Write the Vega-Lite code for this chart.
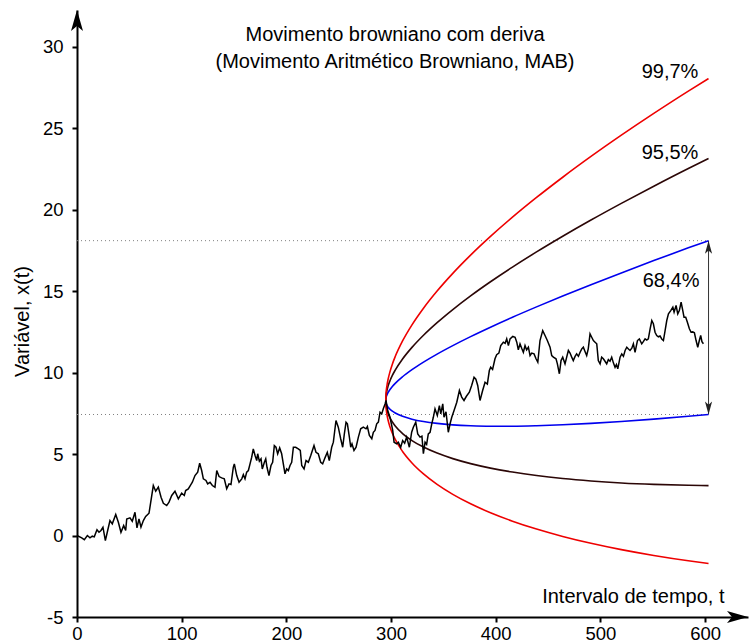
{
 "$schema": "https://vega.github.io/schema/vega-lite/v6.json",
 "width": 671, "height": 607,
 "autosize": {"type": "none"},
 "padding": {"left": 77, "top": 10, "right": 1, "bottom": 26},
 "background": "white",
 "config": {
  "view": {"stroke": null},
  "font": "Liberation Sans",
  "axis": {"grid": false, "domainColor": "black", "domainWidth": 2, "tickColor": "black", "tickWidth": 2, "tickSize": 5,
           "labelFont": "Liberation Sans", "labelFontSize": 18.5, "labelColor": "black",
           "titleFont": "Liberation Sans", "titleFontSize": 20, "titleFontWeight": "normal", "titleColor": "black"}
 },
 "datasets": {
  "path": [
   {"t":0,"v":0},{"t":4.5,"v":-0.14},{"t":7,"v":-0.25},{"t":9.9,"v":0.0},{"t":12.4,"v":-0.14},{"t":14.6,"v":-0.04},{"t":16.5,"v":-0.08},{"t":19.1,"v":0.35},{"t":21,"v":0.2},{"t":22.9,"v":0.31},{"t":24.8,"v":0.51},{"t":27.1,"v":-0.31},{"t":29.3,"v":0.31},{"t":31.5,"v":0.92},{"t":33.7,"v":0.72},{"t":37,"v":1.29},{"t":39.5,"v":0.82},{"t":42,"v":0.2},{"t":44.6,"v":0.61},{"t":46.5,"v":0.31},{"t":47.5,"v":1.02},{"t":50.6,"v":1.09},{"t":52.8,"v":0.88},{"t":55.4,"v":1.43},{"t":57.3,"v":0.47},{"t":59.2,"v":1.02},{"t":61.1,"v":0.51},{"t":63.4,"v":0.92},{"t":65.6,"v":1.17},{"t":68.8,"v":1.37},{"t":72.9,"v":3.07},{"t":75.2,"v":2.72},{"t":77.7,"v":2.97},{"t":80.3,"v":2.35},{"t":82.5,"v":1.98},{"t":85.7,"v":1.84},{"t":87.9,"v":2.05},{"t":90.5,"v":2.46},{"t":93.6,"v":2.72},{"t":96.8,"v":2.25},{"t":100,"v":2.6},{"t":102.5,"v":2.46},{"t":103.8,"v":2.76},{"t":106.3,"v":2.86},{"t":108.2,"v":3.07},{"t":110.2,"v":3.27},{"t":112.7,"v":3.68},{"t":115.3,"v":3.89},{"t":117.2,"v":4.44},{"t":119.1,"v":3.99},{"t":120.7,"v":3.48},{"t":123.2,"v":3.38},{"t":124.8,"v":3.17},{"t":127.1,"v":3.27},{"t":129.3,"v":3.07},{"t":131.8,"v":2.97},{"t":133.5,"v":3.99},{"t":135.7,"v":3.62},{"t":138.2,"v":3.54},{"t":140.7,"v":3.48},{"t":143,"v":2.87},{"t":145.2,"v":3.17},{"t":147.1,"v":3.13},{"t":149.3,"v":4.19},{"t":150.3,"v":4.4},{"t":152.6,"v":3.68},{"t":154.8,"v":3.27},{"t":157.4,"v":3.48},{"t":158.9,"v":3.74},{"t":160.5,"v":3.48},{"t":162.1,"v":3.89},{"t":163.7,"v":3.99},{"t":165.3,"v":4.4},{"t":166.9,"v":4.81},{"t":168.4,"v":5.32},{"t":170.1,"v":4.91},{"t":171.7,"v":4.6},{"t":172.6,"v":5.02},{"t":174.2,"v":4.56},{"t":175.8,"v":4.71},{"t":177,"v":4.09},{"t":179,"v":4.5},{"t":180.3,"v":4.71},{"t":181.5,"v":4.19},{"t":183.4,"v":3.68},{"t":185.3,"v":4.3},{"t":186.9,"v":4.5},{"t":188.5,"v":5.52},{"t":190.1,"v":5.42},{"t":191.7,"v":5.02},{"t":193.6,"v":5.38},{"t":195.5,"v":5.02},{"t":197.1,"v":4.4},{"t":198.7,"v":3.79},{"t":200.3,"v":4.09},{"t":201.9,"v":3.99},{"t":203.5,"v":4.3},{"t":205.1,"v":4.5},{"t":206.7,"v":5.42},{"t":208.9,"v":5.42},{"t":211.4,"v":5.32},{"t":213.3,"v":5.22},{"t":214.7,"v":4.3},{"t":216.9,"v":4.09},{"t":218.8,"v":4.6},{"t":221,"v":4.5},{"t":223.3,"v":4.91},{"t":226.4,"v":5.52},{"t":228.3,"v":5.11},{"t":230.5,"v":5.02},{"t":232.8,"v":4.5},{"t":234.7,"v":4.4},{"t":236.9,"v":4.77},{"t":239.1,"v":5.11},{"t":241,"v":4.6},{"t":243.3,"v":5.42},{"t":244.9,"v":5.73},{"t":247.4,"v":7.06},{"t":249.6,"v":6.65},{"t":251.9,"v":5.94},{"t":253.8,"v":5.42},{"t":255.4,"v":6.24},{"t":257,"v":6.96},{"t":258.3,"v":6.86},{"t":260.2,"v":6.04},{"t":261.5,"v":5.42},{"t":262.7,"v":5.63},{"t":264.6,"v":5.22},{"t":266.6,"v":5.42},{"t":268.8,"v":6.04},{"t":271,"v":6.55},{"t":273.5,"v":6.65},{"t":276.1,"v":6.55},{"t":277.4,"v":6.69},{"t":279.3,"v":6.14},{"t":281.6,"v":5.94},{"t":283.1,"v":6.34},{"t":284.7,"v":6.45},{"t":286.3,"v":6.86},{"t":287.9,"v":6.96},{"t":289.5,"v":7.57},{"t":291.1,"v":7.47},{"t":292.6,"v":7.78},{"t":294.3,"v":8.08},{"t":295.2,"v":8.3},{"t":296.8,"v":7.67},{"t":299,"v":7.26},{"t":301.6,"v":6.45},{"t":302.9,"v":5.73},{"t":305.4,"v":5.63},{"t":307,"v":5.73},{"t":309.2,"v":5.42},{"t":311.1,"v":5.83},{"t":313,"v":5.67},{"t":314.9,"v":6.04},{"t":317.5,"v":5.42},{"t":319.7,"v":6.34},{"t":321.3,"v":6.65},{"t":323.6,"v":6.96},{"t":325.5,"v":6.24},{"t":327.7,"v":6.04},{"t":329.5,"v":6.1},{"t":330.9,"v":5.02},{"t":332.5,"v":5.73},{"t":334,"v":5.6},{"t":335.6,"v":6.24},{"t":337.3,"v":6.34},{"t":338.9,"v":6.86},{"t":340.4,"v":7.26},{"t":342,"v":7.78},{"t":344.2,"v":7.37},{"t":346.2,"v":7.98},{"t":347.5,"v":7.47},{"t":349.4,"v":8.08},{"t":350.6,"v":7.26},{"t":352.5,"v":7.6},{"t":354.7,"v":6.34},{"t":356.4,"v":6.86},{"t":358,"v":7.26},{"t":360.2,"v":7.67},{"t":362.8,"v":8.18},{"t":365.3,"v":8.9},{"t":367.5,"v":8.5},{"t":369.7,"v":8.29},{"t":372,"v":8.55},{"t":374.8,"v":8.8},{"t":377,"v":9.21},{"t":379.3,"v":9.72},{"t":381,"v":9.6},{"t":382.8,"v":9.21},{"t":385,"v":8.29},{"t":387.5,"v":8.9},{"t":389.8,"v":9.41},{"t":392,"v":9.3},{"t":393.9,"v":10.13},{"t":395.2,"v":10.33},{"t":397,"v":10.2},{"t":399.3,"v":10.85},{"t":400.9,"v":11.1},{"t":403,"v":11.2},{"t":404.8,"v":11.66},{"t":407.3,"v":11.87},{"t":409,"v":11.8},{"t":410.5,"v":12.07},{"t":412.1,"v":11.66},{"t":413.7,"v":12.07},{"t":416.3,"v":12.22},{"t":418.5,"v":12.17},{"t":420.1,"v":11.87},{"t":421.6,"v":11.4},{"t":423.2,"v":11.77},{"t":424.8,"v":11.5},{"t":426.4,"v":11.25},{"t":428,"v":11.66},{"t":429.5,"v":11.4},{"t":431.2,"v":11.56},{"t":432.8,"v":11.05},{"t":434.4,"v":11.2},{"t":436.6,"v":11.15},{"t":438.5,"v":10.85},{"t":440.2,"v":10.64},{"t":442.3,"v":11.97},{"t":444.9,"v":12.58},{"t":447.1,"v":12.28},{"t":449.3,"v":11.97},{"t":451.9,"v":11.56},{"t":453.5,"v":11.05},{"t":455.1,"v":10.95},{"t":457.6,"v":10.85},{"t":458.9,"v":10.54},{"t":460.8,"v":9.93},{"t":462.4,"v":10.74},{"t":464,"v":10.95},{"t":466.2,"v":10.54},{"t":467.8,"v":10.95},{"t":469.4,"v":11.36},{"t":471,"v":11.2},{"t":472.6,"v":10.95},{"t":474.1,"v":10.74},{"t":475.8,"v":11.0},{"t":477.3,"v":11.15},{"t":479,"v":11.0},{"t":480.6,"v":11.25},{"t":482.2,"v":11.46},{"t":483.7,"v":11.56},{"t":485.3,"v":11.3},{"t":486.9,"v":11.05},{"t":488.4,"v":11.46},{"t":490.1,"v":12.38},{"t":491.7,"v":12.17},{"t":493.3,"v":11.97},{"t":494.9,"v":11.87},{"t":496.5,"v":11.77},{"t":498,"v":10.74},{"t":499.7,"v":10.54},{"t":501.2,"v":10.95},{"t":502.8,"v":10.85},{"t":504.4,"v":10.7},{"t":506,"v":10.54},{"t":507.6,"v":10.8},{"t":509.2,"v":10.7},{"t":510.8,"v":10.95},{"t":512.4,"v":10.6},{"t":514,"v":10.33},{"t":515.3,"v":10.5},{"t":516.6,"v":10.23},{"t":518.8,"v":10.95},{"t":520.4,"v":11.15},{"t":522,"v":11.0},{"t":523.6,"v":11.36},{"t":525.2,"v":11.56},{"t":526.8,"v":11.45},{"t":528.3,"v":11.36},{"t":530,"v":11.5},{"t":531.5,"v":11.77},{"t":533.1,"v":11.25},{"t":535.4,"v":11.97},{"t":537.2,"v":12.07},{"t":539.5,"v":11.77},{"t":541,"v":11.9},{"t":542.7,"v":12.07},{"t":544.3,"v":12.0},{"t":545.8,"v":12.07},{"t":547.5,"v":12.69},{"t":549.1,"v":13.2},{"t":550.6,"v":13.0},{"t":552.2,"v":12.48},{"t":553.8,"v":12.28},{"t":555.4,"v":12.2},{"t":557,"v":12.25},{"t":558.6,"v":12.07},{"t":560.2,"v":11.97},{"t":561.8,"v":12.58},{"t":563.4,"v":13.2},{"t":565,"v":13.61},{"t":567.2,"v":13.81},{"t":569.2,"v":14.02},{"t":570.4,"v":13.71},{"t":572.3,"v":14.12},{"t":573.9,"v":13.61},{"t":575.4,"v":13.81},{"t":577.1,"v":14.32},{"t":578.7,"v":13.81},{"t":579.9,"v":13.4},{"t":581.5,"v":13.4},{"t":583.1,"v":13.09},{"t":585,"v":12.69},{"t":586.6,"v":12.48},{"t":588.2,"v":12.5},{"t":589.8,"v":12.45},{"t":591.4,"v":11.97},{"t":593,"v":11.56},{"t":594.5,"v":11.97},{"t":595.8,"v":12.28},{"t":597,"v":11.9},{"t":598.4,"v":11.77}
  ],
  "bands": [
   {"t":295,"b_up":8.3,"b_lo":8.3,"k_up":8.3,"k_lo":8.3,"r_up":8.3,"r_lo":8.3},
   {"t":295.25,"b_up":8.456,"b_lo":8.152,"k_up":8.59,"k_lo":8.018,"r_up":8.728,"r_lo":7.88},
   {"t":296,"b_up":8.619,"b_lo":8.011,"k_up":8.888,"k_lo":7.744,"r_up":9.164,"r_lo":7.468},
   {"t":297.25,"b_up":8.789,"b_lo":7.877,"k_up":9.193,"k_lo":7.477,"r_up":9.608,"r_lo":7.064},
   {"t":299,"b_up":8.966,"b_lo":7.75,"k_up":9.506,"k_lo":7.218,"r_up":10.059,"r_lo":6.667},
   {"t":301.25,"b_up":9.151,"b_lo":7.631,"k_up":9.828,"k_lo":6.968,"r_up":10.519,"r_lo":6.279},
   {"t":304,"b_up":9.343,"b_lo":7.519,"k_up":10.156,"k_lo":6.724,"r_up":10.986,"r_lo":5.898},
   {"t":311,"b_up":9.748,"b_lo":7.316,"k_up":10.838,"k_lo":6.262,"r_up":11.945,"r_lo":5.161},
   {"t":320,"b_up":10.183,"b_lo":7.143,"k_up":11.55,"k_lo":5.83,"r_up":12.935,"r_lo":4.455},
   {"t":331,"b_up":10.646,"b_lo":6.998,"k_up":12.294,"k_lo":5.43,"r_up":13.957,"r_lo":3.781},
   {"t":344,"b_up":11.139,"b_lo":6.883,"k_up":13.068,"k_lo":5.06,"r_up":15.01,"r_lo":3.138},
   {"t":359,"b_up":11.66,"b_lo":6.796,"k_up":13.874,"k_lo":4.722,"r_up":16.095,"r_lo":2.527},
   {"t":376,"b_up":12.211,"b_lo":6.739,"k_up":14.712,"k_lo":4.416,"r_up":17.212,"r_lo":1.948},
   {"t":395,"b_up":12.79,"b_lo":6.71,"k_up":15.58,"k_lo":4.14,"r_up":18.36,"r_lo":1.4},
   {"t":416,"b_up":13.399,"b_lo":6.711,"k_up":16.48,"k_lo":3.896,"r_up":19.54,"r_lo":0.884},
   {"t":439,"b_up":14.036,"b_lo":6.74,"k_up":17.41,"k_lo":3.682,"r_up":20.751,"r_lo":0.399},
   {"t":464,"b_up":14.703,"b_lo":6.799,"k_up":18.372,"k_lo":3.5,"r_up":21.994,"r_lo":-0.054},
   {"t":491,"b_up":15.398,"b_lo":6.886,"k_up":19.366,"k_lo":3.35,"r_up":23.269,"r_lo":-0.475},
   {"t":520,"b_up":16.123,"b_lo":7.003,"k_up":20.39,"k_lo":3.23,"r_up":24.575,"r_lo":-0.865},
   {"t":551,"b_up":16.876,"b_lo":7.148,"k_up":21.446,"k_lo":3.142,"r_up":25.913,"r_lo":-1.223},
   {"t":584,"b_up":17.659,"b_lo":7.323,"k_up":22.532,"k_lo":3.084,"r_up":27.282,"r_lo":-1.55},
   {"t":603.3,"b_up":18.101,"b_lo":7.431,"k_up":23.144,"k_lo":3.066,"r_up":28.048,"r_lo":-1.716}
  ],
  "hlines": [{"t":0,"t2":603.3,"v":18.101},{"t":0,"t2":603.3,"v":7.431}],
  "vline": [{"t":603.3,"v":7.431,"v2":18.101}],
  "yarrow": [{"t":0,"v":32.26}],
  "xarrow": [{"t":641,"v":-5}],
  "uparrow": [{"t":603.3,"v":18.101}],
  "downarrow": [{"t":603.3,"v":7.431}],
  "pct": [{"t":566.5,"v":28.1,"label":"99,7%"},{"t":566.5,"v":23.1,"label":"95,5%"},{"t":567.5,"v":15.25,"label":"68,4%"}],
  "title": [{"t":303.8,"v":30.33,"label":"Movimento browniano com deriva"},{"t":303.8,"v":28.73,"label":"(Movimento Aritmético Browniano, MAB)"}]
 },
 "encoding": {
  "x": {"field": "t", "type": "quantitative",
        "scale": {"domain": [0, 641], "nice": false, "zero": false},
        "axis": {"values": [0,100,200,300,400,500,600], "title": "Intervalo de tempo, t", "labelPadding": 2, "labelFlush": false,
                 "titleX": 647, "titleY": -15, "titleAlign": "right", "titleBaseline": "alphabetic", "titleAnchor": "end"}},
  "y": {"field": "v", "type": "quantitative",
        "scale": {"domain": [-5, 32.26], "nice": false, "zero": false},
        "axis": {"values": [-5,0,5,10,15,20,25,30], "labelExpr": "'' + datum.value", "title": "Variável, x(t)", "labelPadding": 9, "labelFlush": false,
                 "titleAngle": 270, "titleX": -55, "titleY": 311, "titleAlign": "center", "titleBaseline": "middle"}}
 },
 "layer": [
  {"data": {"name": "hlines"}, "mark": {"type": "rule", "color": "#808080", "strokeWidth": 1, "strokeDash": [1, 3]},
   "encoding": {"x2": {"field": "t2"}}},
  {"data": {"name": "vline"}, "mark": {"type": "rule", "color": "#333333", "strokeWidth": 1},
   "encoding": {"y2": {"field": "v2"}}},
  {"data": {"name": "bands"},
   "transform": [{"fold": ["b_up","b_lo","k_up","k_lo","r_up","r_lo"], "as": ["curve", "val"]}],
   "mark": {"type": "line", "strokeWidth": 1.6, "interpolate": "monotone"},
   "encoding": {
    "y": {"field": "val", "type": "quantitative"},
    "detail": {"field": "curve"},
    "color": {"field": "curve", "type": "nominal", "legend": null,
              "scale": {"domain": ["b_up","b_lo","k_up","k_lo","r_up","r_lo"], "range": ["#0000ee","#0000ee","#2b0606","#2b0606","#ee0000","#ee0000"]}}
   }},
  {"data": {"name": "path"}, "mark": {"type": "line", "color": "black", "strokeWidth": 1.5}},
  {"data": {"name": "yarrow"}, "mark": {"type": "point", "shape": "M0,0L0.6,2.1L0,1.6L-0.6,2.1Z", "size": 400, "filled": true, "opacity": 1, "color": "black", "strokeWidth": 0}},
  {"data": {"name": "xarrow"}, "mark": {"type": "point", "shape": "M0,0L-2.1,-0.6L-1.6,0L-2.1,0.6Z", "size": 400, "filled": true, "opacity": 1, "color": "black", "strokeWidth": 0}},
  {"data": {"name": "uparrow"}, "mark": {"type": "point", "shape": "M0,0L0.55,2L0,1.5L-0.55,2Z", "size": 169, "filled": true, "opacity": 1, "color": "#222222", "strokeWidth": 0}},
  {"data": {"name": "downarrow"}, "mark": {"type": "point", "shape": "M0,0L0.55,-2L0,-1.5L-0.55,-2Z", "size": 169, "filled": true, "opacity": 1, "color": "#222222", "strokeWidth": 0}},
  {"data": {"name": "pct"}, "mark": {"type": "text", "fontSize": 20, "font": "Liberation Sans", "color": "black", "align": "center", "baseline": "alphabetic"},
   "encoding": {"text": {"field": "label"}}},
  {"data": {"name": "title"}, "mark": {"type": "text", "fontSize": 20, "font": "Liberation Sans", "color": "black", "align": "center", "baseline": "alphabetic"},
   "encoding": {"text": {"field": "label"}}}
 ]
}
